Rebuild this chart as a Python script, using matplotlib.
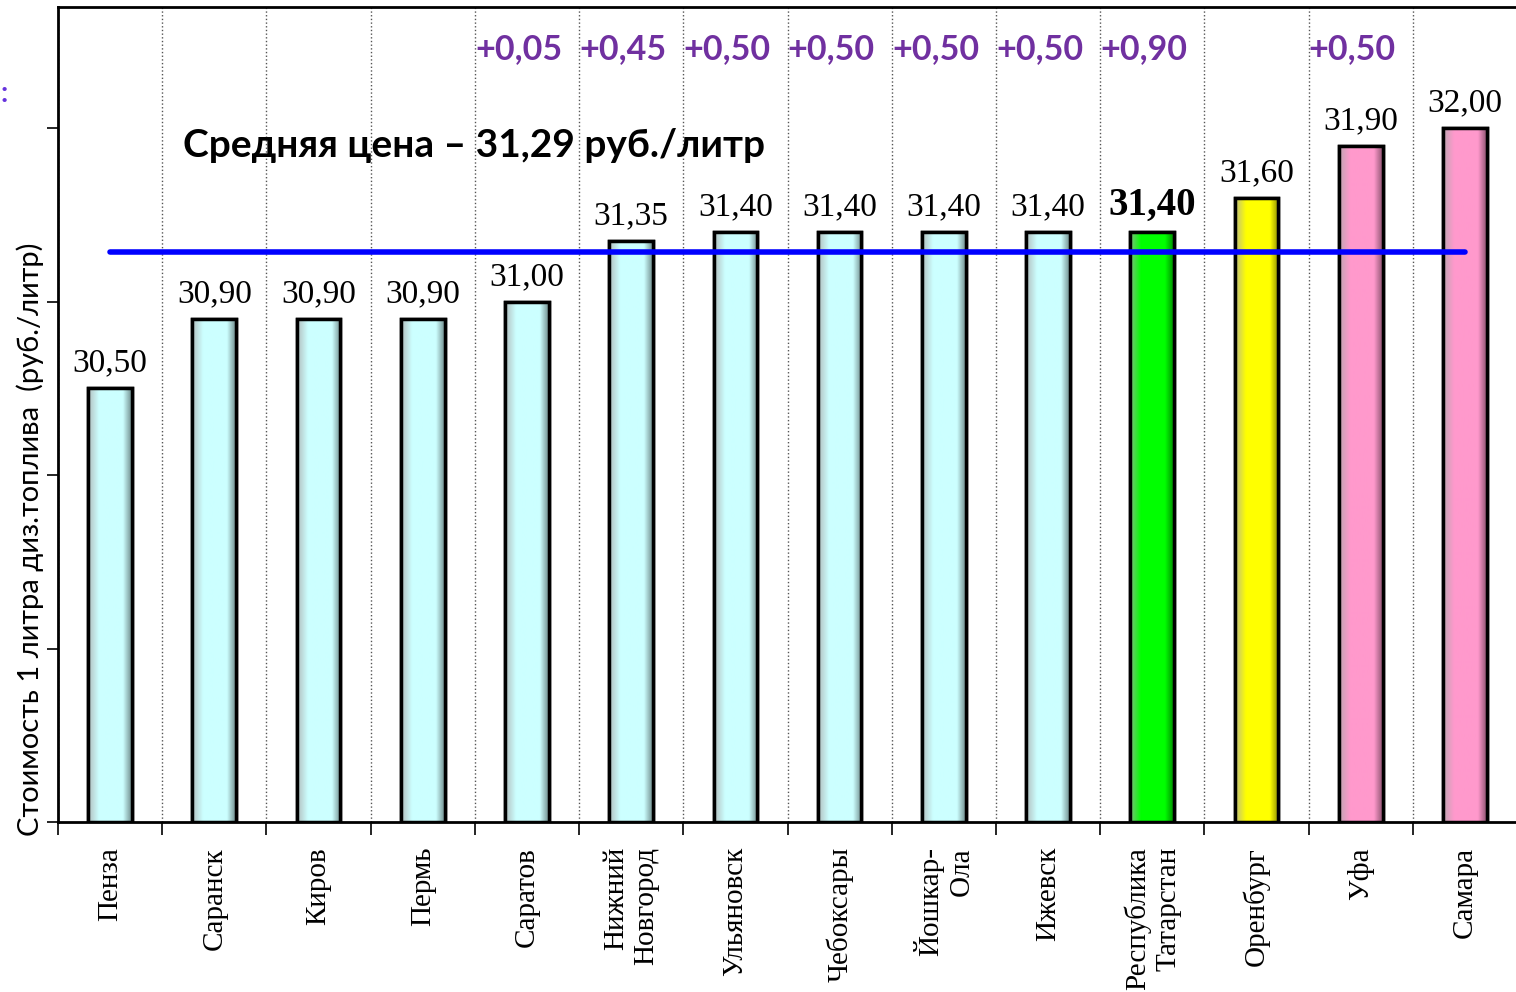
import numpy as np
import matplotlib
matplotlib.use("Agg")
from matplotlib import pyplot as plt
from matplotlib.colors import to_rgb

# data
cities = ["Пенза", "Саранск", "Киров", "Пермь", "Саратов", "Нижний\nНовгород",
          "Ульяновск", "Чебоксары", "Йошкар-\nОла", "Ижевск", "Республика\nТатарстан",
          "Оренбург", "Уфа", "Самара"]
prices = [30.50, 30.90, 30.90, 30.90, 31.00, 31.35, 31.40, 31.40, 31.40, 31.40,
          31.40, 31.60, 31.90, 32.00]
increases = ["", "", "", "", "+0,05", "+0,45", "+0,50", "+0,50", "+0,50", "+0,50",
             "+0,90", "", "+0,50", ""]
bar_colors = ["#CCFFFF"] * 10 + ["#00FF00", "#FFFF00", "#FF99CC", "#FF99CC"]
highlight = "Республика\nТатарстан"
mean_price = 31.29
title_text = "Средняя цена – 31,29 руб./литр"
ylabel_text = "Стоимость 1 литра диз.топлива  (руб./литр)"

fig = plt.figure(figsize=(15.16, 9.92), dpi=100)
ax = fig.add_axes([58 / 1516, 1 - 822 / 992, 1459 / 1516, 815 / 992])

x = np.arange(len(cities))
bars = ax.bar(x, prices, width=0.42, color=bar_colors, edgecolor="black",
              linewidth=2.5, zorder=3)

# simple bevel look: horizontal shading inside each bar
for b, c in zip(bars, bar_colors):
    base = np.array(to_rgb(c))
    t = np.linspace(0, 1, 64)
    shade = np.where(t < 0.25, 0.75 + t, np.where(t < 0.8, 1.0, 1.0 - (t - 0.8) * 2.2))
    grad = np.clip(base[None, :] * shade[:, None] + (t < 0.25)[:, None] * (1 - base) * 0.5 * (1 - t[:, None] / 0.25), 0, 1)
    x0, y0 = b.get_x(), 28.0
    im = ax.imshow(grad[None, :, :], extent=[x0, x0 + b.get_width(), y0, b.get_height()],
                   aspect="auto", zorder=3.5, interpolation="bilinear")
    im.set_clip_path(b)
    ax.add_patch(plt.Rectangle((b.get_x(), 28.0), b.get_width(), b.get_height() - 28.0,
                               fill=False, edgecolor="black", linewidth=2.5, zorder=4))

for xi, p, name in zip(x, prices, cities):
    label = f"{p:.2f}".replace(".", ",")
    if name == highlight:
        ax.annotate(label, (xi, p), xytext=(0, 6), textcoords="offset points",
                    ha="center", va="bottom", fontsize=28, fontweight="bold",
                    family="Liberation Serif", zorder=5)
    else:
        ax.annotate(label, (xi, p), xytext=(0, 7), textcoords="offset points",
                    ha="center", va="bottom", fontsize=24,
                    family="Liberation Serif", zorder=5)

for xi, inc in zip(x, increases):
    if inc:
        ax.text(xi - 0.08, 32.46, inc, ha="center", va="center", fontsize=24.5,
                fontweight="bold", color="#7030A0", family="Lato", zorder=5)

ax.hlines(mean_price, 0, 13, color="#0000FF", linewidth=4, zorder=6,
          capstyle="round")
ax.text(0.70, 31.90, title_text, ha="left", va="center", fontsize=28,
        fontweight="bold", family="Lato", zorder=7)

ax.set_xlim(-0.5, 13.5)
ax.set_ylim(28.0, 32.70)
ax.set_yticks([28, 29, 30, 31, 32])
ax.set_yticklabels([])
ax.tick_params(axis="y", length=8, width=1.2, direction="out")

ax.set_xticks(x)
ax.set_xticklabels(cities, rotation=90, fontsize=21, family="Liberation Serif",
                   multialignment="right")
ax.tick_params(axis="x", which="major", length=0, pad=18)
ax.set_xticks(np.arange(-0.5, 14, 1), minor=True)
ax.tick_params(axis="x", which="minor", length=9, width=1.2, direction="out")
ax.grid(axis="x", which="minor", linestyle=":", color="#555555", linewidth=1, zorder=0)

for s in ["left", "bottom", "top"]:
    ax.spines[s].set_linewidth(2)
ax.spines["right"].set_visible(False)

ax.set_ylabel(ylabel_text, fontsize=21, family="Lato")
ax.yaxis.set_label_coords(-0.0096, 0.347)

fig.text(0.0, 1 - 94 / 992, ":", fontsize=20, fontweight="bold", color="#6633DD",
         ha="left", va="center", family="Lato")

fig.savefig("out.png", dpi=100)
